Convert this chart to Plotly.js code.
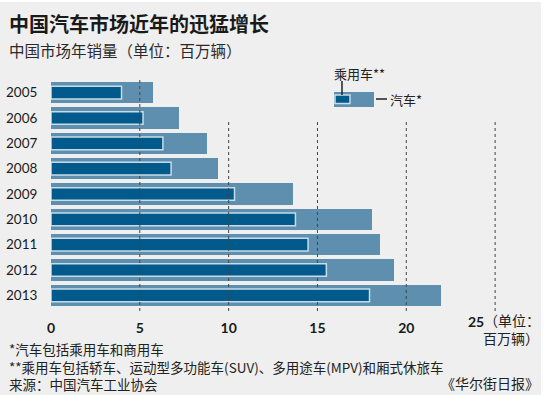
<!DOCTYPE html>
<html>
<head>
<meta charset="utf-8">
<script src="https://cdn.plot.ly/plotly-3.0.1.min.js"></script>
<style>
html,body{margin:0;padding:0;background:#ffffff;}
#chart{position:absolute;left:0;top:2px;width:541px;height:393px;}
</style>
</head>
<body>
<div id="chart"></div>
<script>
// ---- data ----
const years = ['2005','2006','2007','2008','2009','2010','2011','2012','2013'];
const totalVehicles = [5.76, 7.22, 8.79, 9.38, 13.64, 18.06, 18.51, 19.31, 21.98];
const passengerCars = [3.97, 5.18, 6.30, 6.76, 10.33, 13.76, 14.47, 15.50, 17.93];
const xTickVals = [0, 5, 10, 15, 20, 25];
const xTickText = ['0', '5', '10', '15', '20', '25'];
const gridVals = [5, 10, 15, 20, 25];

const titleText = '中国汽车市场近年的迅猛增长';
const subtitleText = '中国市场年销量（单位：百万辆）';
const legendPassenger = '乘用车**';
const legendTotal = '汽车*';
const unitLine1 = '（单位：';
const unitLine2 = '百万辆）';
const notes = ['*汽车包括乘用车和商用车',
  '**乘用车包括轿车、运动型多功能车(SUV)、多用途车(MPV)和厢式休旅车',
  '来源：中国汽车工业协会'];
const sourceText = '《华尔街日报》';

// ---- layout helpers (page pixel -> paper) ----
const W = 541, H = 393, ML = 51, MR = 37, MT = 78, MB = 87, TOP = 2;
const PW = W - ML - MR, PH = H - MT - MB;
const px = x => (x - ML) / PW;
const py = y => 1 - ((y - TOP) - MT) / PH;

const CJK = '"Noto Sans CJK SC", "Noto Sans", sans-serif';
const NUM = 'Lato, "Noto Sans", sans-serif';
const dark = '#005a8c';
const light = '#5f8fae';
const bg = '#efefef';

const traces = [
  {type:'bar', orientation:'h', y: years, x: totalVehicles, width: 0.83,
   marker:{color: light, line:{width:0}}, hoverinfo:'skip'},
  {type:'bar', orientation:'h', y: years, x: passengerCars, width: 0.5,
   marker:{color: dark, line:{width:1.5, color:'#c9dbe6'}}, hoverinfo:'skip'}
];

const shapes = [];
gridVals.forEach(v => {
  shapes.push({type:'line', xref:'x', yref:'paper', x0:v, x1:v,
    y0: py(311), y1: v === 5 ? py(80) : py(120),
    line:{color:'#444', width:1, dash:'dot'}, layer:'above'});
});
// legend glyph
const lx = v => (v - ML) / PW * 25.5; // page px -> data x
shapes.push({type:'rect', xref:'x', yref:'paper', x0: lx(334), x1: lx(374), y0: py(107), y1: py(92),
  fillcolor: light, line:{width:0}});
shapes.push({type:'rect', xref:'x', yref:'paper', x0: lx(335), x1: lx(350), y0: py(103.5), y1: py(95),
  fillcolor: dark, line:{width:1.5, color:'#c9dbe6'}});
shapes.push({type:'line', xref:'x', yref:'paper', x0: lx(342), x1: lx(342), y0: py(95), y1: py(81),
  line:{width:1.5, color:'#222'}});
shapes.push({type:'line', xref:'x', yref:'paper', x0: lx(376), x1: lx(387), y0: py(99), y1: py(99),
  line:{width:1.5, color:'#222'}});

const ann = [];
ann.push({text:'<b>'+titleText+'</b>', x:px(7), y:py(23), xanchor:'left', yanchor:'middle',
  font:{family:CJK, size:20, color:'#1a1a1a'}});
ann.push({text:subtitleText, x:px(7), y:py(50), xanchor:'left', yanchor:'middle',
  font:{family:CJK, size:15.5, color:'#2a2a2a'}});
ann.push({text:legendPassenger, x:px(332), y:py(73), xanchor:'left', yanchor:'middle',
  font:{family:CJK, size:13, color:'#222'}});
ann.push({text:legendTotal, x:px(388), y:py(99), xanchor:'left', yanchor:'middle',
  font:{family:CJK, size:13, color:'#222'}});
ann.push({text:'<b>'+xTickText[xTickText.length-1]+'</b>', x:px(476), y:py(321), xanchor:'center', yanchor:'middle',
  font:{family:NUM, size:14, color:'#1a1a1a'}});
ann.push({text:unitLine1, x:px(482), y:py(320), xanchor:'left', yanchor:'middle',
  font:{family:CJK, size:14, color:'#222'}});
ann.push({text:unitLine2, x:px(541), y:py(338), xanchor:'right', yanchor:'middle',
  font:{family:CJK, size:14, color:'#222'}});
ann.push({text:notes.join('<br>'), x:px(7), y:py(337), xanchor:'left', yanchor:'top', align:'left',
  font:{family:CJK, size:13.5, color:'#222'}});
ann.push({text:sourceText, x:px(541), y:py(383), xanchor:'right', yanchor:'middle',
  font:{family:CJK, size:14, color:'#222'}});
ann.forEach(a => { a.xref='paper'; a.yref='paper'; a.showarrow=false; });

const layout = {
  width: W, height: H,
  margin:{l:ML, r:MR, t:MT, b:MB, pad:0},
  paper_bgcolor: bg, plot_bgcolor: bg,
  barmode:'overlay', bargap:0,
  showlegend:false,
  xaxis:{range:[0,25.5], tickvals:xTickVals.slice(0,-1), ticktext:xTickText.slice(0,-1),
    showgrid:false, zeroline:false, showline:false, ticks:'outside', ticklen:7,
    tickcolor:'rgba(0,0,0,0)', tickfont:{family:NUM, size:14, color:'#1a1a1a', weight:'bold'},
    fixedrange:true},
  yaxis:{type:'category', categoryorder:'array', categoryarray:years, autorange:'reversed',
    showgrid:false, zeroline:false, showline:false, ticks:'outside', ticklen:10,
    tickcolor:'rgba(0,0,0,0)', tickfont:{family:NUM, size:13.5, color:'#1a1a1a'}, fixedrange:true},
  shapes: shapes,
  annotations: ann
};
Plotly.newPlot('chart', traces, layout, {displayModeBar:false, staticPlot:true});
</script>
</body>
</html>
